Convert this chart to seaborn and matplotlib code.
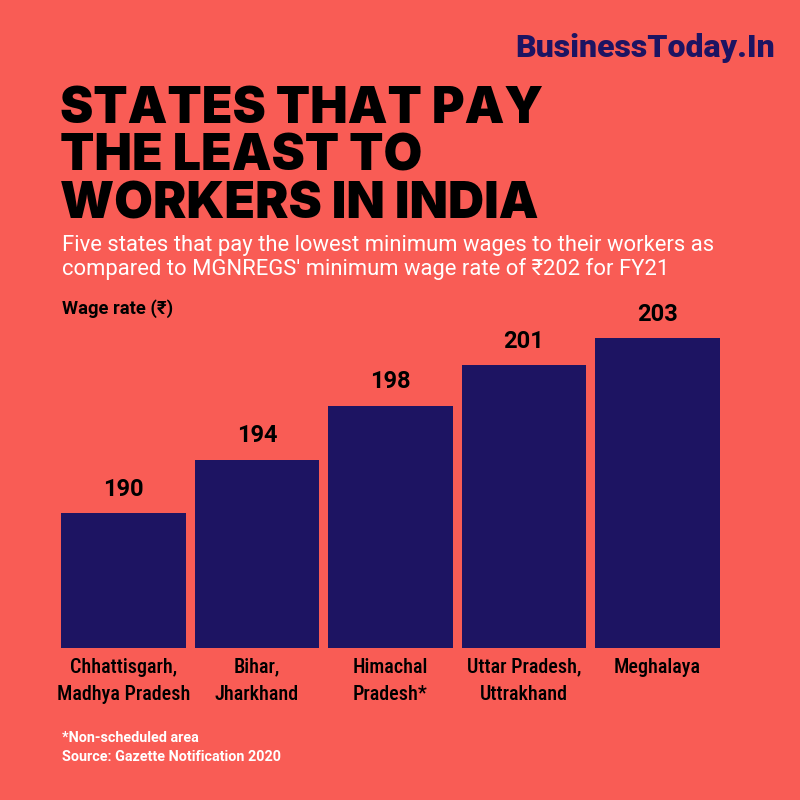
import matplotlib.pyplot as plt
import pandas as pd
import seaborn as sns

BG = '#F95C55'
NAVY = '#1D1462'

states = ['Chhattisgarh,\nMadhya Pradesh', 'Bihar,\nJharkhand', 'Himachal\nPradesh*',
          'Uttar Pradesh,\nUttrakhand', 'Meghalaya']
wages = [190, 194, 198, 201, 203]

sns.set_theme(style='white')
plt.rcParams['font.family'] = ['Roboto', 'DejaVu Sans']

df = pd.DataFrame({'state': states, 'wage': wages})

fig = plt.figure(figsize=(8, 8), dpi=100, facecolor=BG)
ax = fig.add_axes([56.75 / 800, 152 / 800, 667.5 / 800, 348 / 800])
ax.set_facecolor(BG)
sns.barplot(data=df, x='state', y='wage', color=NAVY, saturation=1, width=0.936,
            linewidth=0, ax=ax)
ax.set_xlim(-0.5, 4.5)
ax.set_ylim(180, 180 + 348 / 13.46)
for s in ax.spines.values():
    s.set_visible(False)
ax.set_yticks([])
ax.set_xticks([])
ax.set_xlabel('')
ax.set_ylabel('')

for i, v in enumerate(wages):
    ax.annotate(str(v), (i, v), xytext=(0, 9), textcoords='offset points',
                ha='center', va='bottom', fontsize=17, fontweight='bold', color='black')
    ax.annotate(states[i], (i, 180), xytext=(0, -7), textcoords='offset points',
                ha='center', va='top', fontsize=14.5, color='black', linespacing=1.55,
                family=['Roboto Condensed', 'Liberation Sans Narrow', 'Roboto'],
                fontweight='medium', annotation_clip=False)

fig.text(775 / 800, 1 - 48 / 800, 'BusinessToday.In', ha='right', va='center',
         fontsize=23, fontweight='black', color=NAVY)
fig.text(60 / 800, 1 - 86 / 800, 'STATES THAT PAY\nTHE LEAST TO\nWORKERS IN INDIA', ha='left', va='top',
         fontsize=36, fontweight='black', color='black', linespacing=1.02,
         family=['Inter', 'Lato', 'DejaVu Sans'])
fig.text(62 / 800, 1 - 235 / 800,
         "Five states that pay the lowest minimum wages to their workers as\n"
         "compared to MGNREGS' minimum wage rate of \u20b9202 for FY21",
         ha='left', va='top', fontsize=15.8, color='white', linespacing=1.12)
fig.text(62 / 800, 1 - 309 / 800, 'Wage rate (\u20b9)', ha='left', va='center',
         fontsize=13.2, fontweight='bold', color='black')
fig.text(62 / 800, 1 - 738 / 800, '*Non-scheduled area', ha='left', va='center',
         fontsize=10.4, fontweight='bold', color='white')
fig.text(62 / 800, 1 - 757 / 800, 'Source: Gazette Notification 2020', ha='left', va='center',
         fontsize=10.4, fontweight='bold', color='white')

fig.savefig('out.png', dpi=100, facecolor=BG)
